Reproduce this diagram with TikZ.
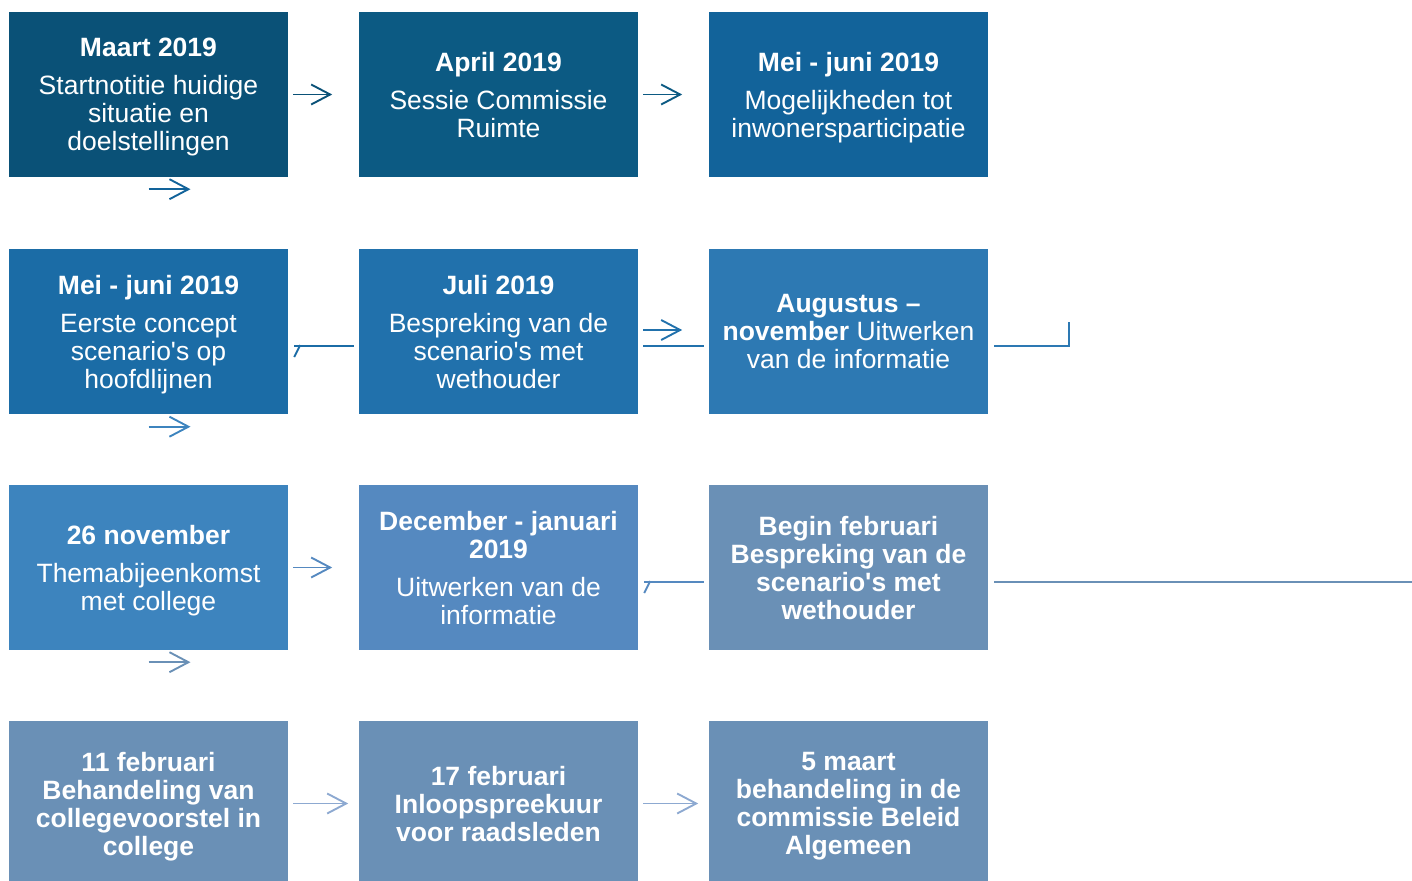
\documentclass[tikz,border=0pt]{standalone}
\usepackage{fontspec}
\setmainfont{Liberation Sans}
\usetikzlibrary{arrows.meta}
\definecolor{m1}{HTML}{0A5177}
\definecolor{m2}{HTML}{0C5A83}
\definecolor{m3}{HTML}{12639A}
\definecolor{m4}{HTML}{1B6CA6}
\definecolor{m5}{HTML}{2171AC}
\definecolor{m6}{HTML}{2D79B3}
\definecolor{m7}{HTML}{3D84BE}
\definecolor{m8}{HTML}{5589C0}
\definecolor{m9}{HTML}{6A90B6}
\definecolor{licht}{HTML}{8DA9D1}
\tikzset{stap/.style={draw=none,fill=#1,text=white,rectangle,minimum width=279pt,minimum height=165pt,inner sep=0pt,text depth=0pt,align=center,font=\fontsize{26.5}{28}\selectfont}}
\tikzset{pijl/.style={line width=1.9pt,-{Straight Barb[length=19pt,width=20pt]}}}
\tikzset{lijn/.style={line width=1.9pt}}

\begin{document}
\begin{tikzpicture}[x=1pt,y=-1pt]
    \useasboundingbox (0,0) rectangle (1412,880);

    \node[stap=m1] (b1) at (148.5, 94.5) {\textbf{Maart 2019}\\[10pt]Startnotitie huidige\\situatie en\\doelstellingen};
    \node[stap=m2] (b2) at (498.5, 94.5) {\textbf{April 2019}\\[10pt]Sessie Commissie\\Ruimte};
    \node[stap=m3] (b3) at (848.5, 94.5) {\textbf{Mei - juni 2019}\\[10pt]Mogelijkheden tot\\inwonersparticipatie};
    \node[stap=m4] (b4) at (148.5, 331.5) {\textbf{Mei - juni 2019}\\[10pt]Eerste concept\\scenario\textquotesingle s op\\hoofdlijnen};
    \node[stap=m5] (b5) at (498.5, 331.5) {\textbf{Juli 2019}\\[10pt]Bespreking van de\\scenario\textquotesingle s met\\wethouder};
    \node[stap=m6] (b6) at (848.5, 331.5) {\textbf{Augustus –}\\\textbf{november} Uitwerken\\van de informatie};
    \node[stap=m7] (b7) at (148.5, 567.5) {\textbf{26 november}\\[10pt]Themabijeenkomst\\met college};
    \node[stap=m8] (b8) at (498.5, 567.5) {\textbf{December - januari}\\\textbf{2019}\\[10pt]Uitwerken van de\\informatie};
    \node[stap=m9] (b9) at (848.5, 567.5) {\textbf{Begin februari}\\\textbf{Bespreking van de}\\\textbf{scenario\textquotesingle s met}\\\textbf{wethouder}};
    \node[stap=m9] (b10) at (148.5, 803.5) {\textbf{11 februari}\\\textbf{Behandeling van}\\\textbf{collegevoorstel in}\\\textbf{college}};
    \node[stap=m9] (b11) at (498.5, 803.5) {\textbf{17 februari}\\\textbf{Inloopspreekuur}\\\textbf{voor raadsleden}};
    \node[stap=m9] (b12) at (848.5, 803.5) {\textbf{5 maart}\\\textbf{behandeling in de}\\\textbf{commissie Beleid}\\\textbf{Algemeen}};

    % rij 1
    \draw[pijl, m1] ([xshift=5pt]b1.east) -- ([xshift=44pt]b1.east);
    \draw[pijl, m2] ([xshift=5pt]b2.east) -- ([xshift=44pt]b2.east);
    \draw[pijl, m3] ([yshift=-12pt]b1.south) -- ([xshift=42pt,yshift=-12pt]b1.south);

    % rij 2
    \draw[lijn, m4] ([xshift=-5pt,yshift=-14.5pt]b5.west) -- ([xshift=6pt,yshift=-14.5pt]b4.east);
    \draw[lijn, m4] ([xshift=6pt,yshift=-25.5pt]b4.east) -- ([xshift=12pt,yshift=-13.5pt]b4.east);
    \draw[pijl, m5] ([xshift=5pt,yshift=1.5pt]b5.east) -- ([xshift=44pt,yshift=1.5pt]b5.east);
    \draw[lijn, m5] ([xshift=5pt,yshift=-14.5pt]b5.east) -- ([xshift=-5pt,yshift=-14.5pt]b6.west);
    \draw[lijn, m6] ([xshift=6pt,yshift=-14.5pt]b6.east) -| ([xshift=81pt,yshift=9.5pt]b6.east);
    \draw[pijl, m7] ([yshift=-12.5pt]b4.south) -- ([xshift=42pt,yshift=-12.5pt]b4.south);

    % rij 3
    \draw[pijl, m8] ([xshift=5pt]b7.east) -- ([xshift=44pt]b7.east);
    \draw[lijn, m8] ([xshift=-5pt,yshift=-14.5pt]b9.west) -- ([xshift=6pt,yshift=-14.5pt]b8.east);
    \draw[lijn, m8] ([xshift=6pt,yshift=-25.5pt]b8.east) -- ([xshift=12pt,yshift=-13.5pt]b8.east);
    \draw[lijn, m9] ([xshift=6pt,yshift=-14.5pt]b9.east) -- ([xshift=424pt,yshift=-14.5pt]b9.east);
    \draw[pijl, m9] ([yshift=-12pt]b7.south) -- ([xshift=42pt,yshift=-12pt]b7.south);

    % rij 4
    \draw[pijl, licht] ([xshift=5pt]b10.east) -- ([xshift=60pt]b10.east);
    \draw[pijl, licht] ([xshift=5pt]b11.east) -- ([xshift=60pt]b11.east);
\end{tikzpicture}
\end{document}
